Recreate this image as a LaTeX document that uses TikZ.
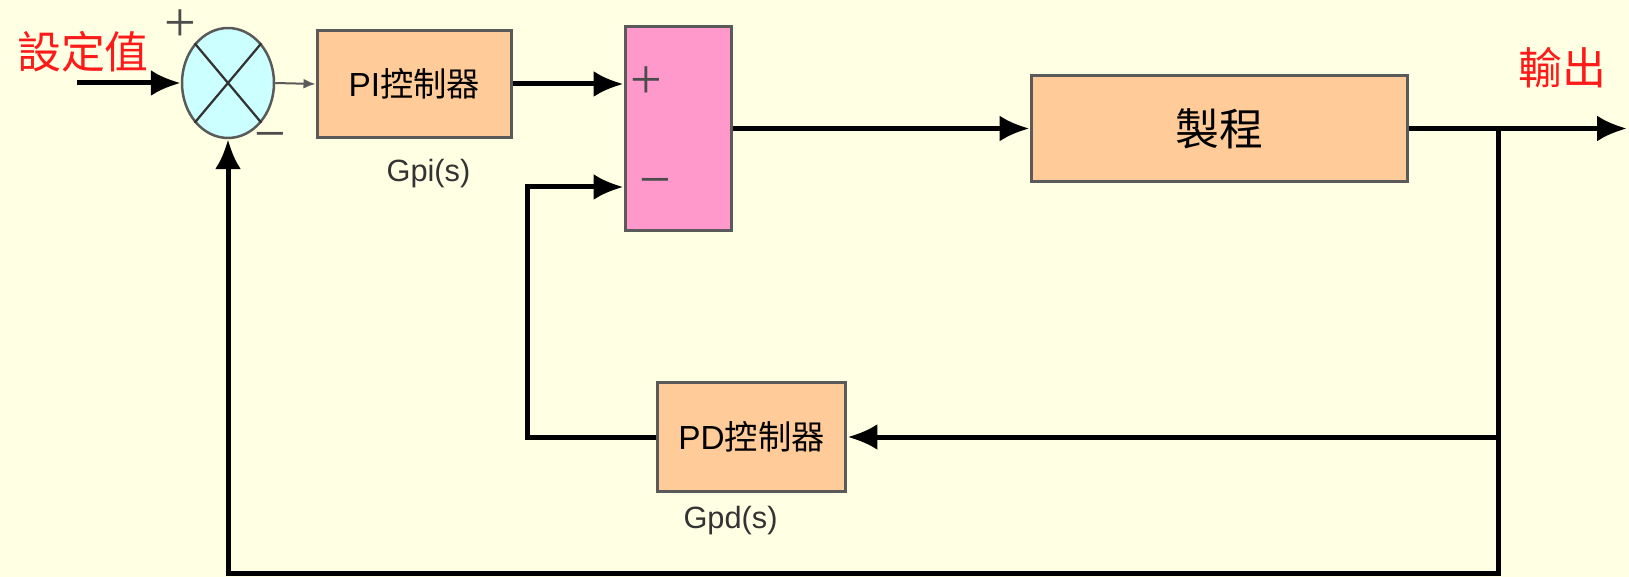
\documentclass[tikz,border=0pt]{standalone}
\usepackage{fontspec}
\setmainfont{Liberation Sans}
\newfontfamily\cjk{Noto Sans CJK TC}
\newfontfamily\signfont{Liberation Serif}
\usepackage{tikz}
\usetikzlibrary{shapes.geometric, arrows.meta, positioning, calc}
\definecolor{bgyellow}{HTML}{FFFFE3}
\definecolor{blockorange}{HTML}{FFCC99}
\definecolor{blockpink}{HTML}{FF99CC}
\definecolor{sumcyan}{HTML}{CCFFFF}
\definecolor{labelred}{HTML}{FF1A1A}
\definecolor{edgegray}{HTML}{5A5A5A}

\begin{document}
\begin{tikzpicture}[
  x=0.02cm, y=-0.02cm,
  block/.style={
    rectangle, draw=edgegray, line width=0.06cm,
    fill=blockorange, inner sep=0pt,
    font=\fontsize{19}{22}\selectfont
  },
  sumnode/.style={
    ellipse, draw=edgegray, line width=0.05cm, fill=sumcyan,
    minimum width=1.84cm, minimum height=2.2cm, inner sep=0pt
  },
  arrow/.style={-{Latex[length=0.6cm, width=0.52cm]}, line width=0.1cm},
  thinarrow/.style={-{Latex[length=0.24cm, width=0.2cm]}, line width=0.04cm, color=edgegray},
  sign/.style={font=\signfont\fontsize{32}{34}\selectfont, text=black!70, inner sep=0pt},
  tag/.style={font=\fontsize{17.5}{20}\selectfont, text=black!80, inner sep=0pt},
  redlabel/.style={font=\cjk\fontsize{25}{28}\selectfont, text=labelred, inner sep=0pt}
]

% background
\fill[bgyellow] (0,0) rectangle (1629,577);
\useasboundingbox (0,0) rectangle (1629,577);

% Summing junction
\node[sumnode] (sum) at (228,83) {};
\draw[black!80, line width=0.045cm] (sum.north west) -- (sum.south east);
\draw[black!80, line width=0.045cm] (sum.north east) -- (sum.south west);
\node[sign] (sumplus) at (180,26) {+};
\node[sign] (summinus) at (270,142) {−};

% Blocks
\node[block, minimum width=3.9cm, minimum height=2.16cm] (pi) at (414.5,84)
      {PI{\cjk 控制器}};
\node[tag, below=0.38cm of pi, xshift=0.28cm] (gpi) {Gpi(s)};

\node[rectangle, draw=edgegray, line width=0.06cm, fill=blockpink,
      minimum width=2.14cm, minimum height=4.1cm] (cmp) at (678.5,128.5) {};
\node[sign] (cmpplus) at (646,83) {+};
\node[sign] (cmpminus) at (655,188) {−};

\node[block, minimum width=7.54cm, minimum height=2.14cm,
      font=\cjk\fontsize{25}{28}\selectfont] (plant) at (1219.5,128.5) {製程};

\node[block, minimum width=3.78cm, minimum height=2.18cm] (pd) at (751.5,437)
      {PD{\cjk 控制器}};
\node[tag, below=0.26cm of pd, xshift=-0.42cm] (gpd) {Gpd(s)};

% Labels
\node[redlabel] (setpoint) at (83,52) {設定值};
\node[redlabel] (output) at (1562,68) {輸出};

% Coordinates
\coordinate (in) at (77,83);
\coordinate (out) at (1627,128.5);
\coordinate (tap) at (1498,128.5);
\coordinate (minusin) at ($(cmp.west)+(0,58.5)$);

% Forward path
\draw[arrow] (in) -- (sum.west);
\draw[thinarrow] (sum.east) -- (pi.west);
\draw[arrow] (pi.east) -- (pi.east -| cmp.west);
\draw[arrow] (cmp.east) -- (plant.west);
\draw[arrow] (plant.east) -- (out);

% Inner loop
\draw[arrow] (tap) |- (pd.east);
\draw[arrow] (pd.west) -- ++(-128,0) |- (minusin);

% Outer loop
\draw[arrow] (tap) -- ++(0,444.5) -| (sum.south);

\end{tikzpicture}
\end{document}
